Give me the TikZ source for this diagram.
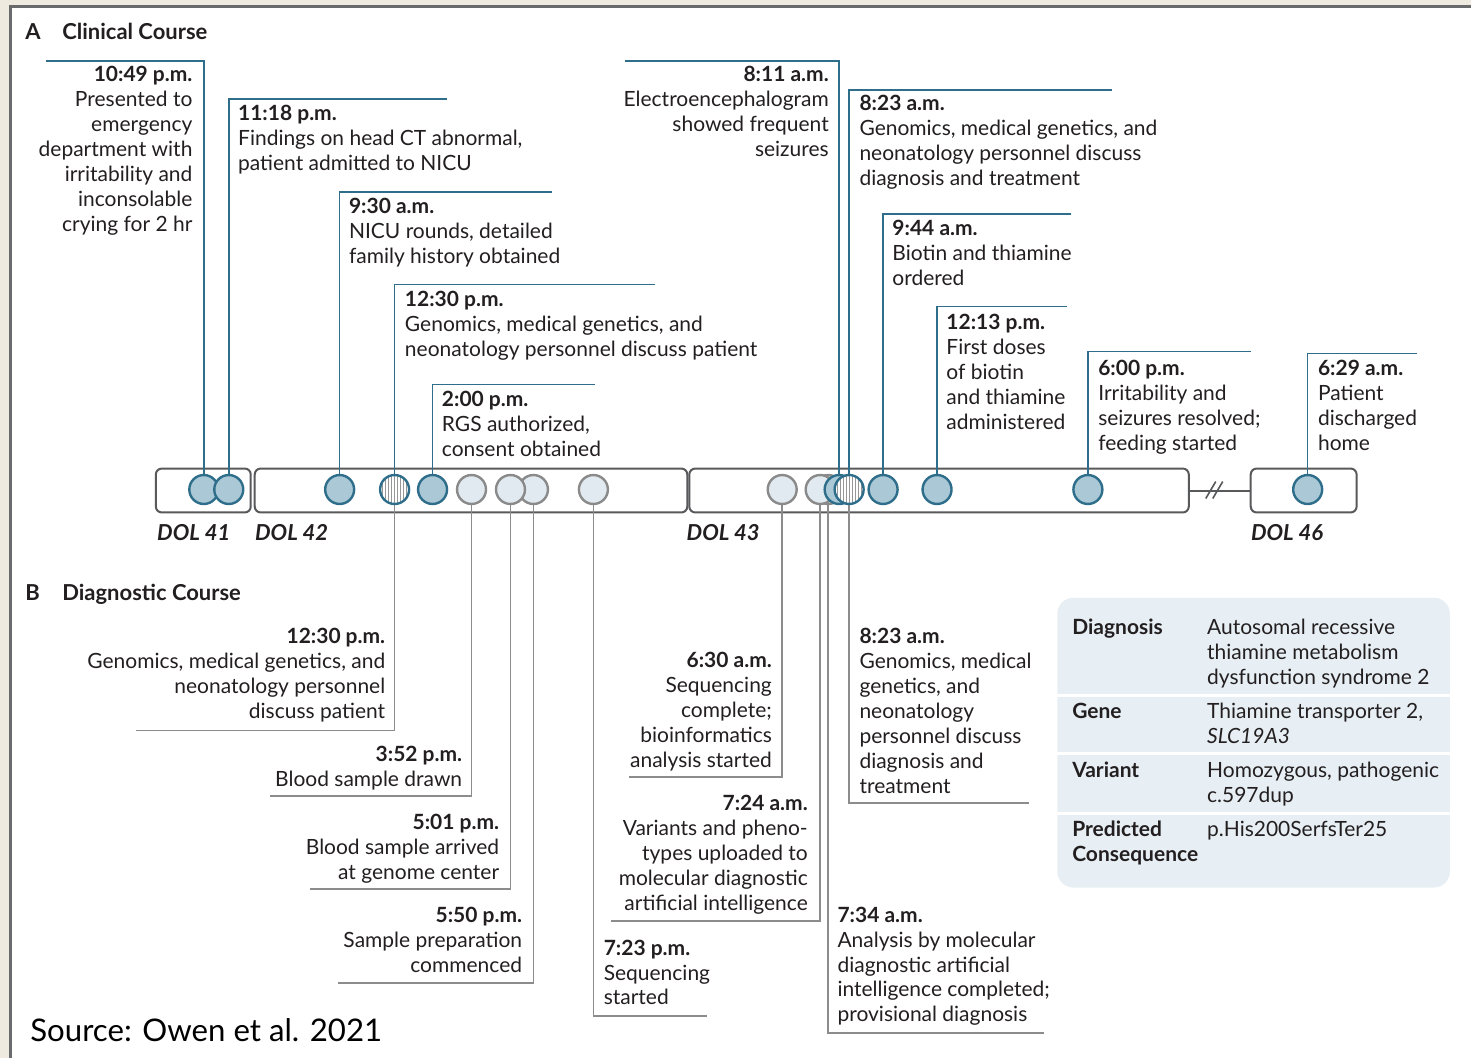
\documentclass[tikz,border=0pt]{standalone}
\usepackage{fontspec}
\setmainfont{Lato}
\definecolor{tealc}{RGB}{46,110,138}
\definecolor{tealfill}{RGB}{170,200,214}
\definecolor{grayl}{RGB}{140,140,140}
\definecolor{grayc}{RGB}{138,138,138}
\definecolor{grayfill}{RGB}{225,234,240}
\definecolor{boxc}{RGB}{88,89,91}
\definecolor{textc}{RGB}{35,31,32}
\definecolor{tablec}{RGB}{231,239,244}
\definecolor{beige}{RGB}{238,234,224}
\definecolor{framec}{RGB}{105,106,108}
\definecolor{hatchc}{RGB}{150,150,150}
\newcommand\LR[2]{\begin{tabular}[t]{@{}r@{}}\textbf{#1}\\#2\end{tabular}}
\newcommand\LL[2]{\begin{tabular}[t]{@{}l@{}}\textbf{#1}\\#2\end{tabular}}
\begin{document}
\begin{tikzpicture}[x=0.5pt,y=-0.5pt,
  tl/.style={draw=tealc, line width=0.75pt},
  gl/.style={draw=grayl, line width=0.75pt},
  cev/.style={circle, draw=tealc, fill=tealfill, line width=1.2pt, minimum size=14.5pt, inner sep=0pt},
  cgr/.style={circle, draw=grayc, fill=grayfill, line width=1.2pt, minimum size=14.5pt, inner sep=0pt},
  chat/.style={cev, fill=white, path picture={\foreach \i in {-6,...,6}{\draw[hatchc,line width=0.35pt] ([xshift=\i*1.5pt,yshift=10pt]path picture bounding box.center) -- ++(0,40);}}},
  dbox/.style={draw=boxc, line width=1pt, rounded corners=3pt, fill=white, minimum height=22pt, inner sep=0pt, anchor=north west},
  lbl/.style={font=\fontsize{10.5}{12.5}\selectfont, inner sep=0pt, text=textc},
  lr/.style={lbl, anchor=base east},
  ll/.style={lbl, anchor=base west},
  dol/.style={font=\fontsize{11}{12.5}\selectfont\bfseries\itshape, inner sep=0pt, text=textc, anchor=base west},
  head/.style={font=\fontsize{11}{12.5}\selectfont\bfseries, inner sep=0pt, text=textc, anchor=base west}
]
% background and frame
\fill[beige] (0,0) rectangle (1472,1059);
\fill[white] (12,8) rectangle (1472,1059);
\draw[framec, line width=1.5pt] (11,1059) -- (11,7) -- (1472,7);
\useasboundingbox (0,0) rectangle (1472,1059);

% headings
\node[head] (hA) at (25,40) {A};
\node[head] (hAt) at (62,40) {Clinical Course};
\node[head] (hB) at (25,601) {B};
\node[head] (hBt) at (62,601) {Diagnostic Course};

% day boxes
\node[dbox, minimum width=47.5pt] (b41) at (155,468) {};
\node[dbox, minimum width=216.5pt] (b42) at (254,468) {};
\node[dbox, minimum width=250pt] (b43) at (689,468) {};
\node[dbox, minimum width=53pt] (b46) at (1251,468) {};
\draw[draw=boxc, line width=1pt] (b43.east) -- (b46.west);
\draw[draw=boxc, line width=0.8pt] (1207,499) -- (1217,482) (1214,499) -- (1224,482);

\node[dol] (d41) at (157,541) {DOL 41};
\node[dol] (d42) at (255,541) {DOL 42};
\node[dol] (d43) at (687,541) {DOL 43};
\node[dol] (d46) at (1252,541) {DOL 46};

% event circles (positions)
\coordinate (p1049) at (204,490);
\coordinate (p1118) at (229,490);
\coordinate (p930) at (340,490);
\coordinate (p1230) at (395,490);
\coordinate (p200) at (433,490);
\coordinate (p352) at (472,490);
\coordinate (p501) at (511,490);
\coordinate (p550) at (534,490);
\coordinate (p723) at (594,490);
\coordinate (p630) at (783,490);
\coordinate (p724) at (821,490);
\coordinate (p734) at (829,490);
\coordinate (p811) at (840,490);
\coordinate (p823) at (850,490);
\coordinate (p944) at (884,490);
\coordinate (p1213) at (938,490);
\coordinate (p600) at (1089,490);
\coordinate (p629) at (1309,490);

% label corners (free ends)
\coordinate (a1049) at (46,61);
\coordinate (a1118) at (447,99);
\coordinate (a930) at (553,192);
\coordinate (a1230) at (656,285);
\coordinate (a200) at (596,385);
\coordinate (a811) at (626,61);
\coordinate (a823) at (1113,90);
\coordinate (a944) at (1072,214);
\coordinate (a1213) at (1068,307);
\coordinate (a600) at (1252,352);
\coordinate (a629) at (1418,354);
\coordinate (g1230) at (136,731);
\coordinate (g352) at (270,797);
\coordinate (g501) at (310,890);
\coordinate (g550) at (338,984);
\coordinate (g723) at (708,1017);
\coordinate (g630) at (630,778);
\coordinate (g724) at (612,922);
\coordinate (g734) at (1045,1034);
\coordinate (g823) at (1030,804);

% connectors (clinical, teal)
\draw[tl] (p1049) |- (a1049);
\draw[tl] (p1118) |- (a1118);
\draw[tl] (p930) |- (a930);
\draw[tl] (p1230) |- (a1230);
\draw[tl] (p200) |- (a200);
\draw[tl] (p811) |- (a811);
\draw[tl] (p823) |- (a823);
\draw[tl] (p944) |- (a944);
\draw[tl] (p1213) |- (a1213);
\draw[tl] (p600) |- (a600);
\draw[tl] (p629) |- (a629);
% connectors (diagnostic, gray)
\draw[gl] (p1230) |- (g1230);
\draw[gl] (p352) |- (g352);
\draw[gl] (p501) |- (g501);
\draw[gl] (p550) |- (g550);
\draw[gl] (p723) |- (g723);
\draw[gl] (p630) |- (g630);
\draw[gl] (p724) |- (g724);
\draw[gl] (p734) |- (g734);
\draw[gl] (p823) |- (g823);

% circles
\node[cev] (c1049) at (p1049) {};
\node[cev] (c1118) at (p1118) {};
\node[cev] (c930) at (p930) {};
\node[chat] (c1230) at (p1230) {};
\node[cev] (c200) at (p200) {};
\node[cgr] (c352) at (p352) {};
\node[cgr] (c550) at (p550) {};
\node[cgr] (c501) at (p501) {};
\node[cgr] (c723) at (p723) {};
\node[cgr] (c630) at (p630) {};
\node[cgr] (c734) at (p734) {};
\node[cgr] (c724) at (p724) {};
\node[cev] (c811) at (p811) {};
\node[chat] (c823) at (p823) {};
\node[cev] (c944) at (p944) {};
\node[cev] (c1213) at (p1213) {};
\node[cev] (c600) at (p600) {};
\node[cev] (c629) at (p629) {};

% clinical labels
\node[lr] (l1049) at (193,82) {\LR{10:49 p.m.}{Presented to\\emergency\\department with\\irritability and\\inconsolable\\crying for 2 hr}};
\node[ll] (l1118) at (238,121) {\LL{11:18 p.m.}{Findings on head CT abnormal,\\patient admitted to NICU}};
\node[ll] (l930) at (349,214) {\LL{9:30 a.m.}{NICU rounds, detailed\\family history obtained}};
\node[ll] (l1230) at (405,307) {\LL{12:30 p.m.}{Genomics, medical genetics, and\\neonatology personnel discuss patient}};
\node[ll] (l200) at (442,407) {\LL{2:00 p.m.}{RGS authorized,\\consent obtained}};
\node[lr] (l811) at (830,82) {\LR{8:11 a.m.}{Electroencephalogram\\showed frequent\\seizures}};
\node[ll] (l823) at (860,111) {\LL{8:23 a.m.}{Genomics, medical genetics, and\\neonatology personnel discuss\\diagnosis and treatment}};
\node[ll] (l944) at (893,236) {\LL{9:44 a.m.}{Biotin and thiamine\\ordered}};
\node[ll] (l1213) at (947,330) {\LL{12:13 p.m.}{First doses\\of biotin\\and thiamine\\administered}};
\node[ll] (l600) at (1099,376) {\LL{6:00 p.m.}{Irritability and\\seizures resolved;\\feeding started}};
\node[ll] (l629) at (1319,376) {\LL{6:29 a.m.}{Patient\\discharged\\home}};

% diagnostic labels
\node[lr] (m1230) at (386,644) {\LR{12:30 p.m.}{Genomics, medical genetics, and\\neonatology personnel\\discuss patient}};
\node[lr] (m352) at (463,762) {\LR{3:52 p.m.}{Blood sample drawn}};
\node[lr] (m501) at (500,830) {\LR{5:01 p.m.}{Blood sample arrived\\at genome center}};
\node[lr] (m550) at (523,923) {\LR{5:50 p.m.}{Sample preparation\\commenced}};
\node[ll] (m723) at (604,956) {\LL{7:23 p.m.}{Sequencing\\started}};
\node[lr] (m630) at (773,668) {\LR{6:30 a.m.}{Sequencing\\complete;\\bioinformatics\\analysis started}};
\node[lr] (m724) at (809,811) {\LR{7:24 a.m.}{Variants and pheno-\\types uploaded to\\molecular diagnostic\\artificial intelligence}};
\node[ll] (m734) at (838,923) {\LL{7:34 a.m.}{Analysis by molecular\\diagnostic artificial\\intelligence completed;\\provisional diagnosis}};
\node[ll] (m823) at (860,644) {\LL{8:23 a.m.}{Genomics, medical\\genetics, and\\neonatology\\personnel discuss\\diagnosis and\\treatment}};

% diagnosis table
\node[fill=tablec, rounded corners=8pt, minimum width=196.5pt, minimum height=145pt, inner sep=0pt, anchor=north west] (tab) at (1058,598) {};
\draw[white, line width=1.5pt] (1058,696) -- (1451,696) (1058,754) -- (1451,754) (1058,814) -- (1451,814);
\node[ll] (t1) at (1073,635) {\textbf{Diagnosis}};
\node[ll] (t1v) at (1208,635) {\begin{tabular}[t]{@{}l@{}}Autosomal recessive\\thiamine metabolism\\dysfunction syndrome 2\end{tabular}};
\node[ll] (t2) at (1073,719) {\textbf{Gene}};
\node[ll] (t2v) at (1208,719) {\begin{tabular}[t]{@{}l@{}}Thiamine transporter 2,\\\textit{SLC19A3}\end{tabular}};
\node[ll] (t3) at (1073,778) {\textbf{Variant}};
\node[ll] (t3v) at (1208,778) {\begin{tabular}[t]{@{}l@{}}Homozygous, pathogenic\\c.597dup\end{tabular}};
\node[ll] (t4) at (1073,837) {\begin{tabular}[t]{@{}l@{}}\textbf{Predicted}\\\textbf{Consequence}\end{tabular}};
\node[ll] (t4v) at (1208,837) {p.His200SerfsTer25};

% source
\node[font=\fontsize{15.6}{18}\selectfont, inner sep=0pt, text=black, anchor=base west] (src) at (30,1043) {Source: Owen et al. 2021};
\end{tikzpicture}
\end{document}
